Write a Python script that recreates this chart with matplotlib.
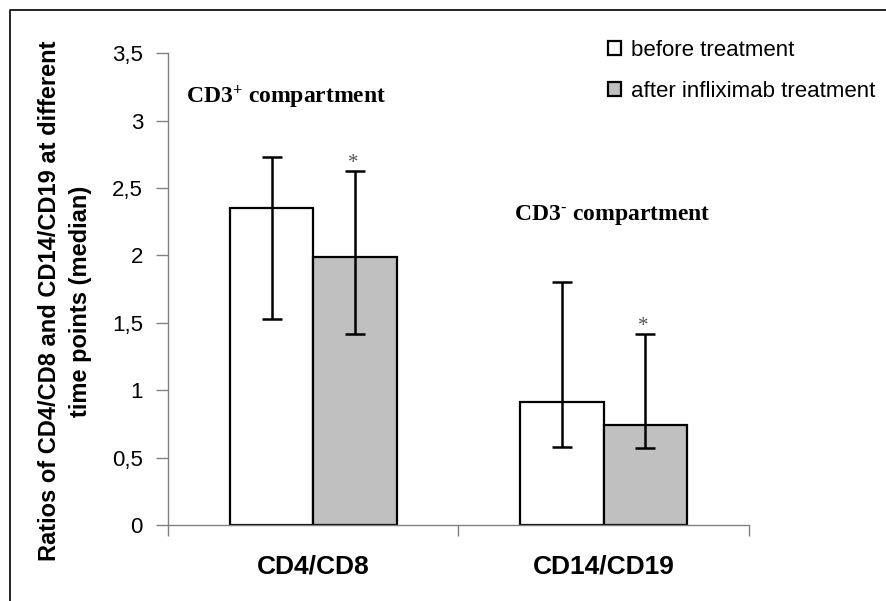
import matplotlib
matplotlib.use("Agg")
import matplotlib.pyplot as plt
from matplotlib.lines import Line2D
import numpy as np

# median ratios
categories = ["CD4/CD8", "CD14/CD19"]
before = [2.35, 0.91]
after = [1.99, 0.74]
before_lo = [1.53, 0.58]
before_hi = [2.73, 1.80]
after_lo = [1.42, 0.57]
after_hi = [2.63, 1.42]
series_labels = ["before treatment", "after infliximab treatment"]
yticks = [0, 0.5, 1, 1.5, 2, 2.5, 3, 3.5]
ytick_labels = ["0", "0,5", "1", "1,5", "2", "2,5", "3", "3,5"]

plt.rcParams["font.family"] = ["Liberation Sans", "DejaVu Sans"]
plt.rcParams["mathtext.fontset"] = "custom"
plt.rcParams["mathtext.rm"] = "Liberation Serif:bold"
plt.rcParams["mathtext.bf"] = "Liberation Serif:bold"
plt.rcParams["mathtext.it"] = "Liberation Serif:bold"

W, H = 887, 601
fig = plt.figure(figsize=(W / 100, H / 100), dpi=100)
ax = fig.add_axes([168 / W, 1 - 525 / H, (749 - 168) / W, (525 - 53.3) / H])

x = np.arange(len(categories))
w = 0.287
b1 = ax.bar(x - w / 2, before, w, color="white", edgecolor="black", linewidth=1.6, zorder=2)
b2 = ax.bar(x + w / 2, after, w, color="#c0c0c0", edgecolor="black", linewidth=1.6, zorder=2)

err_b = [np.array(before) - np.array(before_lo), np.array(before_hi) - np.array(before)]
err_a = [np.array(after) - np.array(after_lo), np.array(after_hi) - np.array(after)]
ax.errorbar(x - w / 2, before, yerr=err_b, fmt="none", ecolor="black", elinewidth=1.8,
            capsize=7, capthick=1.8, zorder=3)
ax.errorbar(x + w / 2, after, yerr=err_a, fmt="none", ecolor="black", elinewidth=1.8,
            capsize=7, capthick=1.8, zorder=3)

# significance stars above the "after" bars
for xi, hi in zip(x + w / 2, after_hi):
    ax.annotate("*", (xi, hi), xytext=(-1.5, -2), textcoords="offset points",
                ha="center", va="bottom", fontsize=15, color="#555555",
                family="Liberation Serif")

ax.set_xlim(-0.5, 1.5)
ax.set_ylim(0, 3.5)
ax.set_yticks(yticks)
ax.set_yticklabels(ytick_labels, fontsize=16)
ax.set_xticks(x)
ax.set_xticklabels(categories, fontsize=19, fontweight="bold")
ax.set_xticks([-0.5, 0.5, 1.5], minor=True)
ax.tick_params(axis="x", which="major", length=0, pad=21)
ax.tick_params(axis="x", which="minor", length=8, direction="out", color="#808080", width=1)
ax.tick_params(axis="y", length=9, direction="out", color="#808080", width=1, pad=9)

for side in ["top", "right"]:
    ax.spines[side].set_visible(False)
for side in ["left", "bottom"]:
    ax.spines[side].set_color("#808080")
    ax.spines[side].set_linewidth(1)

ax.text(186 / W, 1 - 97 / H, r"CD3$^{+}$ compartment", transform=fig.transFigure,
        family="Liberation Serif", fontweight="bold", fontsize=17, va="center", ha="left")
ax.text(514 / W, 1 - 215 / H, r"CD3$^{\text{-}}$ compartment", transform=fig.transFigure,
        family="Liberation Serif", fontweight="bold", fontsize=17, va="center", ha="left")

fig.text(65 / W, 1 - 301 / H,
         "Ratios of CD4/CD8 and CD14/CD19 at different\ntime points (median)",
         rotation=90, ha="center", va="center", multialignment="center",
         fontsize=17, fontweight="bold", linespacing=1.4)

ax.legend([b1, b2], series_labels, loc="upper left", bbox_to_anchor=(608 / W, 1 - 40 / H),
          bbox_transform=fig.transFigure, frameon=False, fontsize=16,
          handlelength=0.6, handleheight=0.6, handletextpad=0.45, labelspacing=0.9,
          borderpad=0, borderaxespad=0)

# figure frame: only the top and left edges are visible in the source
fig.add_artist(Line2D([10 / W, 10 / W, 1], [0, 1 - 10 / H, 1 - 10 / H],
                      transform=fig.transFigure, color="black", linewidth=1.2))

fig.savefig("out.png", dpi=100)
